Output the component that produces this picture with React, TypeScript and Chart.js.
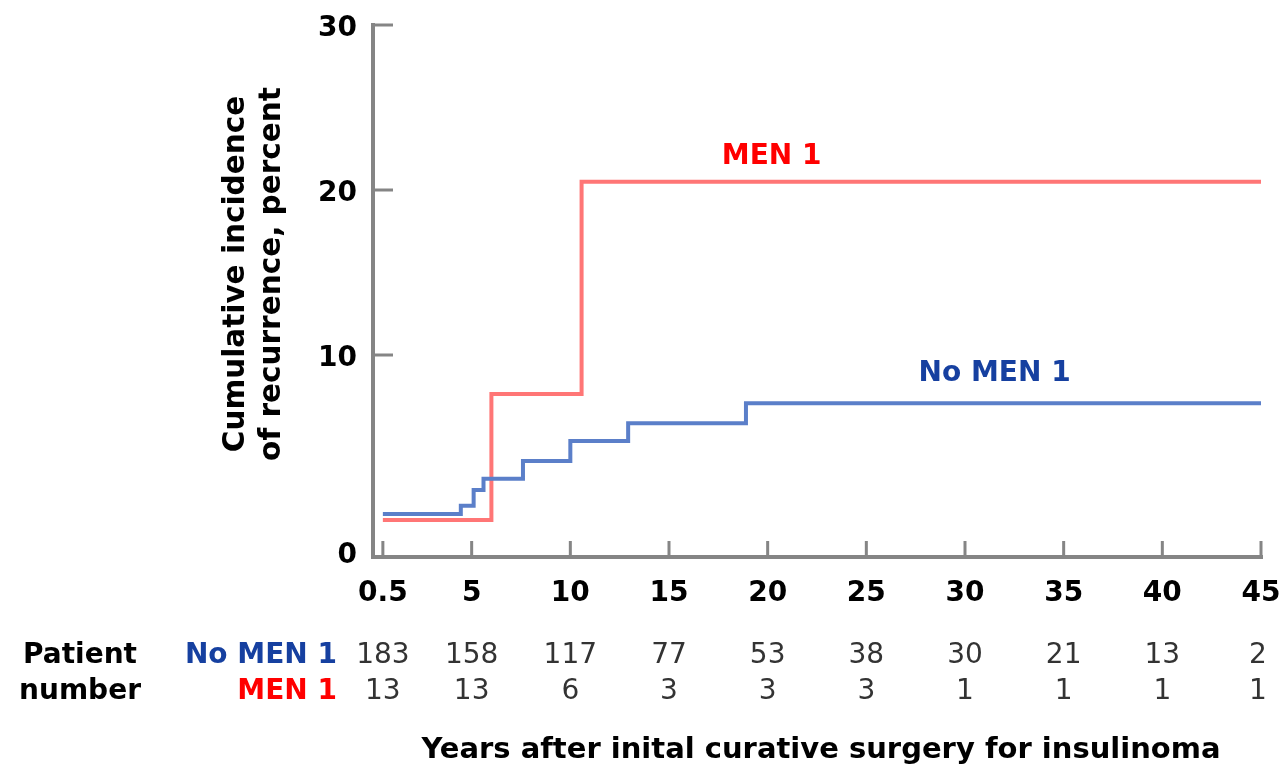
import { useEffect, useRef } from 'react';
import { Chart, registerables } from 'chart.js';

Chart.register(...registerables);

// ---- data ----
const X_TICKS = [0.5, 5, 10, 15, 20, 25, 30, 35, 40, 45];
const Y_TICKS = [10, 20, 30];
const Y_ZERO_LABEL_AT = -1.95; // "0" label sits at the bottom of the extended axis
const Y_MIN = -2.24;
const Y_MAX = 30;

const NO_MEN_YEARS = [0.5, 4.45, 5.1, 5.6, 7.6, 10.0, 12.93, 18.9, 45];
const NO_MEN_PCT = [0.36, 0.87, 1.82, 2.5, 3.58, 4.79, 5.86, 7.07, 7.07];

const MEN_YEARS = [0.5, 6.0, 10.57, 45];
const MEN_PCT = [0.0, 7.64, 20.5, 20.5];

const NO_MEN_AT_RISK = [183, 158, 117, 77, 53, 38, 30, 21, 13, 2];
const MEN_AT_RISK = [13, 13, 6, 3, 3, 3, 1, 1, 1, 1];

const SERIES_NAMES = ['No MEN 1', 'MEN 1'];
const SERIES_LABEL_X = [31.5, 20.2];
const SERIES_LABEL_Y = [8.42, 21.6];

const Y_TITLE = ['Cumulative incidence', 'of recurrence, percent'];
const X_TITLE = 'Years after inital curative surgery for insulinoma';
const TABLE_TITLE = ['Patient', 'number'];

// ---- styles ----
const FONT = "'DejaVu Sans', Verdana, sans-serif";
const AXIS_COLOR = '#858585';
const RED_LINE = '#ff7676';
const BLUE_LINE = '#5b7fc9';
const RED_TEXT = '#ff0000';
const BLUE_TEXT = '#1640a0';
const NUM_COLOR = '#333333';

const zeroPadding = (s: any) => {
  s.paddingLeft = 0;
  s.paddingRight = 0;
  s.paddingTop = 0;
  s.paddingBottom = 0;
};

const overlayPlugin = {
  id: 'overlay',
  afterDraw(chart: any) {
    const { ctx, chartArea } = chart;
    const xs = chart.scales.x;
    const ys = chart.scales.y;
    const { left, right, top, bottom } = chartArea;
    ctx.save();

    // axes
    ctx.strokeStyle = AXIS_COLOR;
    ctx.lineWidth = 4;
    ctx.lineCap = 'butt';
    ctx.beginPath();
    ctx.moveTo(left, top - 2);
    ctx.lineTo(left, bottom);
    ctx.lineTo(right + 2, bottom);
    ctx.stroke();

    // inward tick marks
    ctx.lineWidth = 3;
    ctx.beginPath();
    X_TICKS.forEach((v) => {
      const px = xs.getPixelForValue(v);
      ctx.moveTo(px, bottom);
      ctx.lineTo(px, bottom - 16);
    });
    Y_TICKS.forEach((v) => {
      const py = ys.getPixelForValue(v);
      ctx.moveTo(left, py);
      ctx.lineTo(left + 20, py);
    });
    ctx.stroke();

    // series labels
    ctx.font = `bold 28px ${FONT}`;
    ctx.textAlign = 'center';
    ctx.textBaseline = 'alphabetic';
    [BLUE_TEXT, RED_TEXT].forEach((c, i) => {
      ctx.fillStyle = c;
      ctx.fillText(
        SERIES_NAMES[i],
        xs.getPixelForValue(SERIES_LABEL_X[i]),
        ys.getPixelForValue(SERIES_LABEL_Y[i])
      );
    });

    // y title
    ctx.fillStyle = '#000000';
    ctx.save();
    ctx.font = `bold 29.5px ${FONT}`;
    ctx.translate(244, 274);
    ctx.rotate(-Math.PI / 2);
    ctx.textAlign = 'center';
    ctx.fillText(Y_TITLE[0], 0, 0);
    ctx.fillText(Y_TITLE[1], 0, 36);
    ctx.restore();

    // table
    const row1 = 663;
    const row2 = 699;
    ctx.textAlign = 'center';
    ctx.fillStyle = '#000000';
    ctx.fillText(TABLE_TITLE[0], 80, row1);
    ctx.fillText(TABLE_TITLE[1], 80, row2);
    ctx.textAlign = 'right';
    ctx.fillStyle = BLUE_TEXT;
    ctx.fillText(SERIES_NAMES[0], 337, row1);
    ctx.fillStyle = RED_TEXT;
    ctx.fillText(SERIES_NAMES[1], 337, row2);

    ctx.font = `28px ${FONT}`;
    ctx.textAlign = 'center';
    ctx.fillStyle = NUM_COLOR;
    X_TICKS.forEach((v, i) => {
      const px = Math.min(xs.getPixelForValue(v), 1258);
      ctx.fillText(String(NO_MEN_AT_RISK[i]), px, row1);
      ctx.fillText(String(MEN_AT_RISK[i]), px, row2);
    });

    // x title
    ctx.font = `bold 29px ${FONT}`;
    ctx.fillStyle = '#000000';
    ctx.textAlign = 'center';
    ctx.fillText(X_TITLE, 821, 758);

    ctx.restore();
  },
};

export default function App() {
  const ref = useRef<HTMLCanvasElement | null>(null);

  useEffect(() => {
    if (!ref.current) return;
    const chart = new Chart(ref.current, {
      type: 'line',
      data: {
        datasets: [
          {
            label: SERIES_NAMES[0],
            data: NO_MEN_YEARS.map((x, i) => ({ x, y: NO_MEN_PCT[i] })),
            borderColor: BLUE_LINE,
            borderWidth: 4,
            stepped: 'before',
            pointRadius: 0,
            fill: false,
          },
          {
            label: SERIES_NAMES[1],
            data: MEN_YEARS.map((x, i) => ({ x, y: MEN_PCT[i] })),
            borderColor: RED_LINE,
            borderWidth: 4,
            stepped: 'before',
            pointRadius: 0,
            fill: false,
          },
        ],
      },
      options: {
        responsive: false,
        animation: false,
        layout: { padding: { top: 25, right: 21, left: 0, bottom: 0 } },
        plugins: {
          legend: { display: false },
          tooltip: { enabled: false },
        },
        scales: {
          x: {
            type: 'linear',
            min: 0,
            max: 45,
            grid: { display: false, drawTicks: false },
            border: { display: false },
            afterBuildTicks: (s: any) => {
              s.ticks = X_TICKS.map((v) => ({ value: v }));
            },
            afterFit: (s: any) => {
              s.height = 209;
              zeroPadding(s);
            },
            ticks: {
              autoSkip: false,
              maxRotation: 0,
              padding: 20,
              color: '#000000',
              font: { family: FONT, size: 28, weight: 'bold' },
              callback: (v: any) => String(v),
            },
          },
          y: {
            type: 'linear',
            min: Y_MIN,
            max: Y_MAX,
            grid: { display: false, drawTicks: false },
            border: { display: false },
            afterBuildTicks: (s: any) => {
              s.ticks = [Y_ZERO_LABEL_AT, ...Y_TICKS].map((v) => ({ value: v }));
            },
            afterFit: (s: any) => {
              s.width = 373;
              zeroPadding(s);
            },
            ticks: {
              padding: 16,
              labelOffset: 3.5,
              color: '#000000',
              font: { family: FONT, size: 28, weight: 'bold' },
              callback: (v: any) => (v === Y_ZERO_LABEL_AT ? '0' : String(v)),
            },
          },
        },
      },
      plugins: [overlayPlugin],
    });
    return () => chart.destroy();
  }, []);

  return (
    <canvas
      ref={ref}
      width={1282}
      height={766}
      style={{ position: 'absolute', left: 0, top: 0, width: 1282, height: 766 }}
    />
  );
}
